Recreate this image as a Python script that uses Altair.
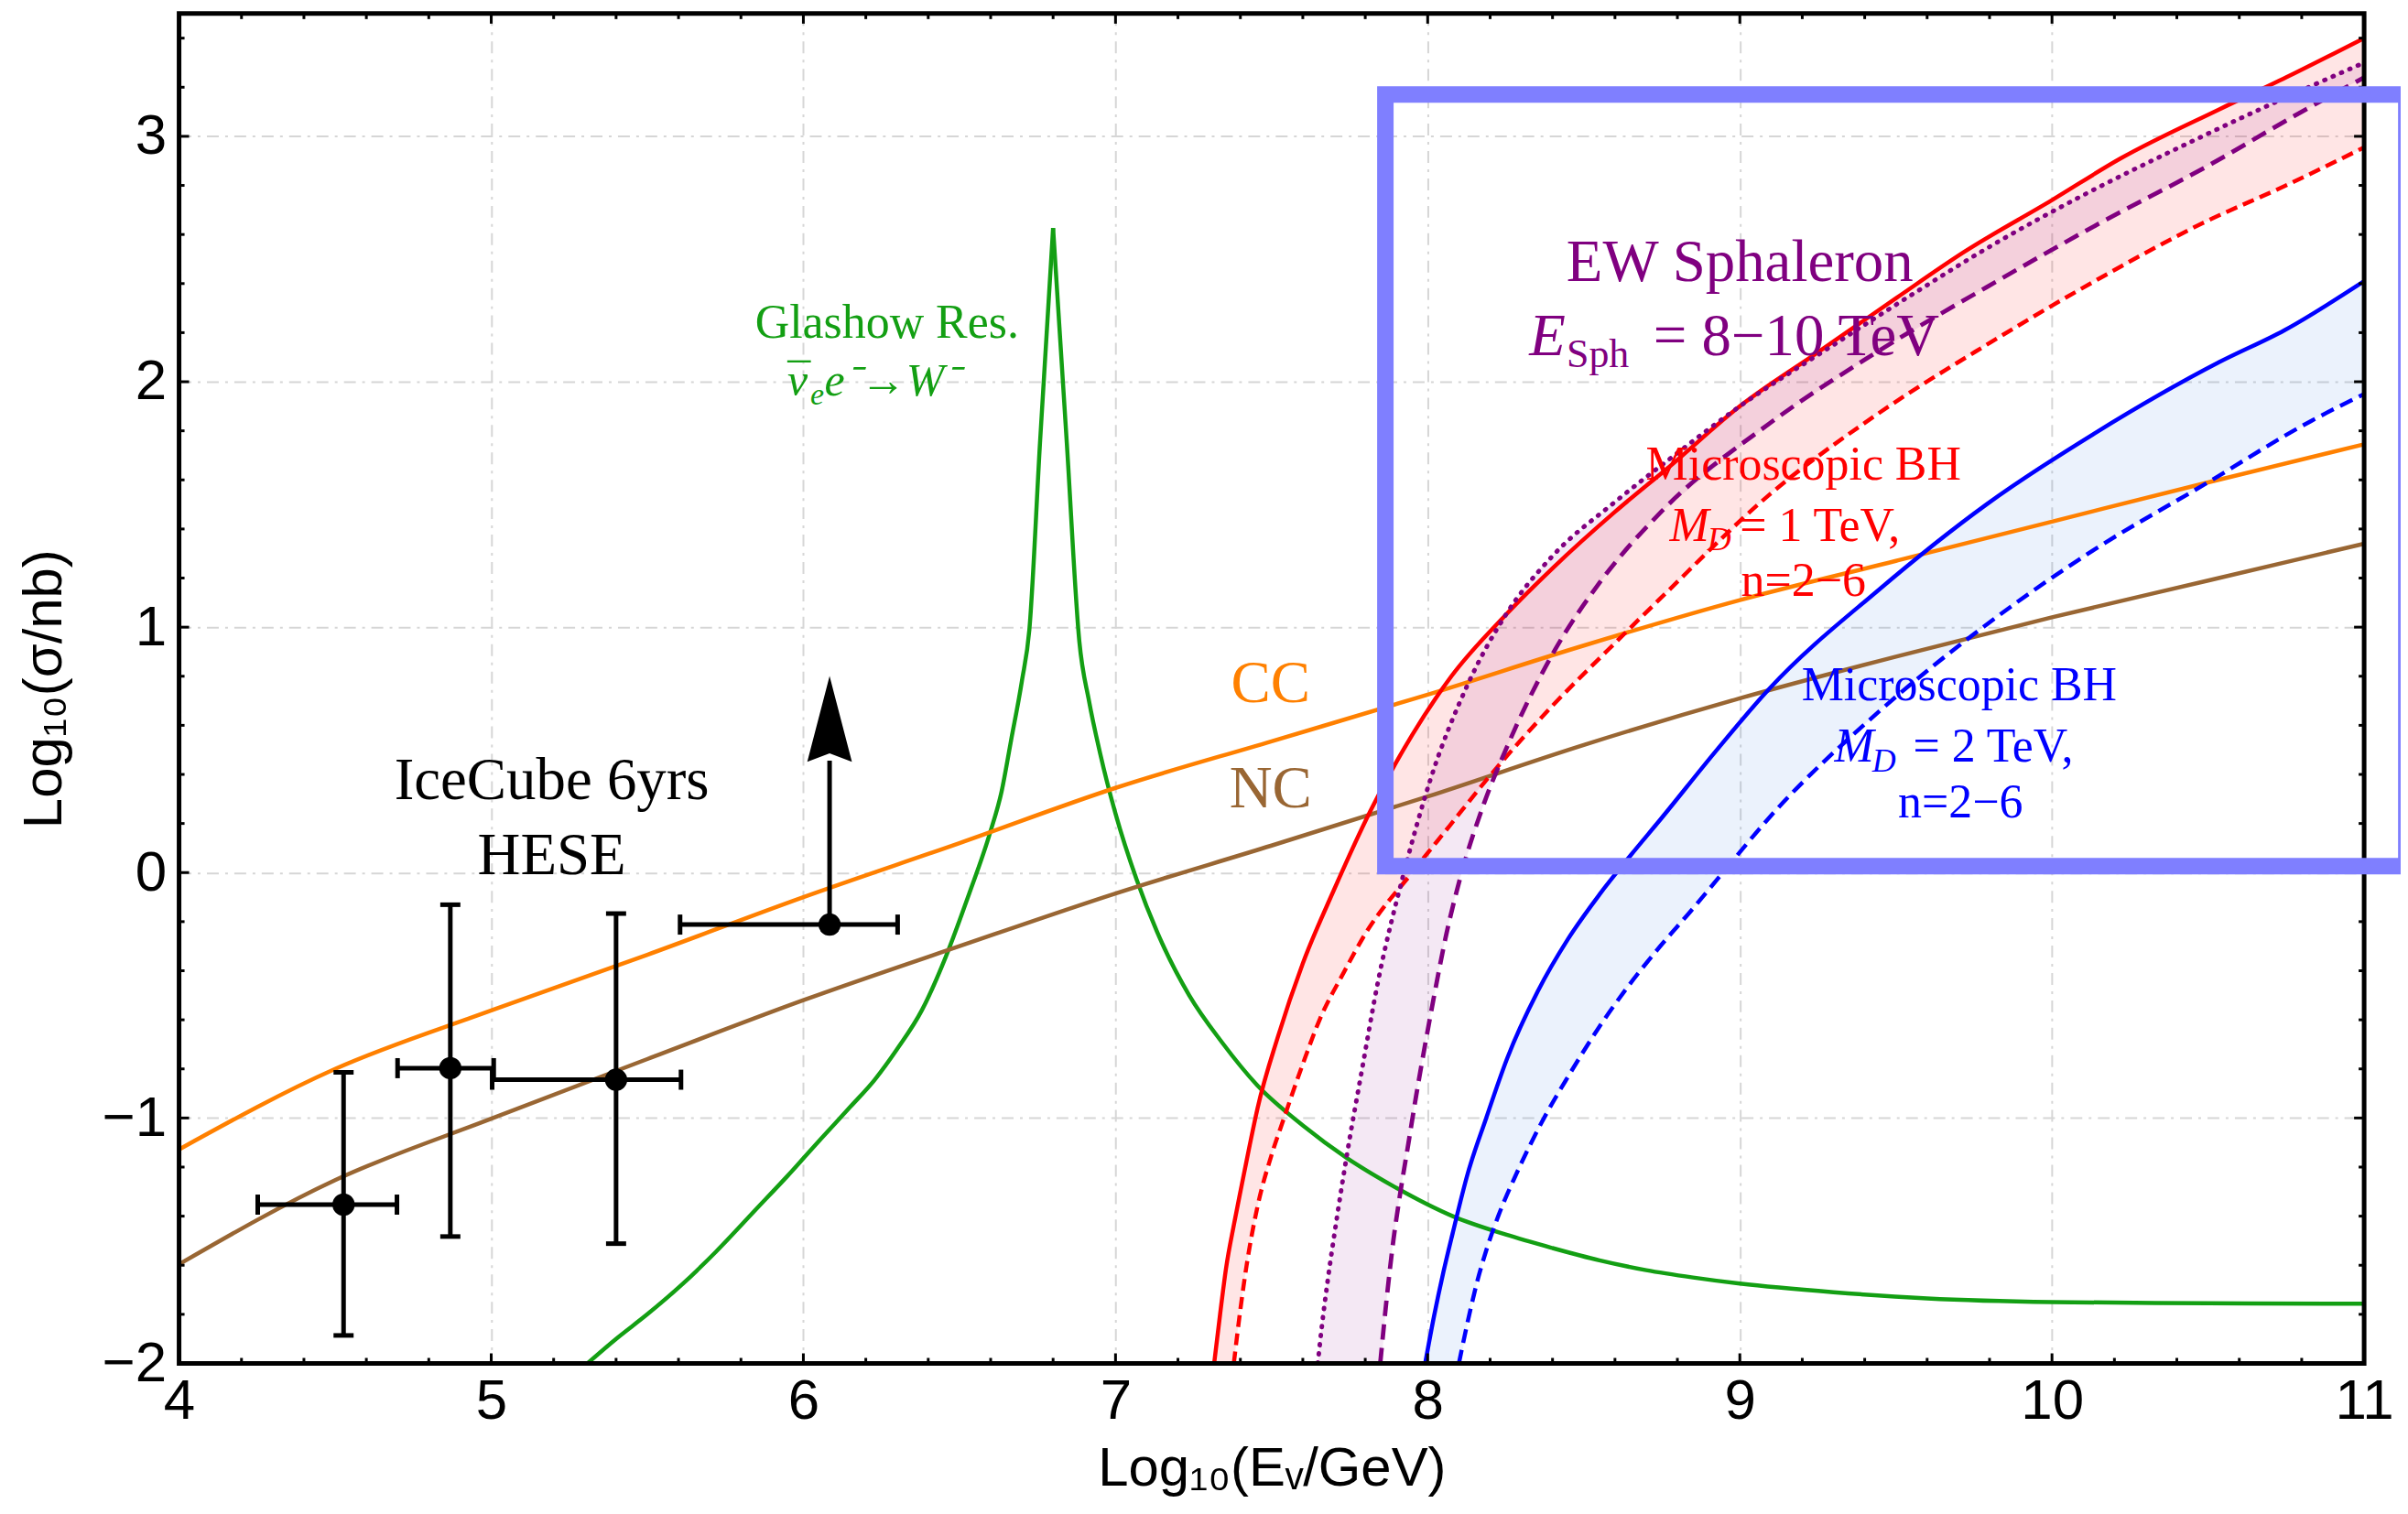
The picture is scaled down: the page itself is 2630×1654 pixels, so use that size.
import altair as alt
import pandas as pd
import numpy as np

# ---------------- frame / scales ----------------
X_MIN, X_MAX = 4.0, 11.0
Y_MIN, Y_MAX = -2.0, 3.5
PLOT_W, PLOT_H = 2392, 1478

# ---------------- data ----------------
# SM charged current / neutral current
cc_x = [4.0, 4.5, 5.0, 5.5, 6.0, 6.5, 7.0, 7.5, 8.0, 8.5, 9.0, 9.5, 10.0, 10.5, 11.0]
cc_y = [-1.128, -0.80, -0.562, -0.335, -0.10, 0.12, 0.345, 0.535, 0.725, 0.925, 1.11, 1.27, 1.43, 1.59, 1.745]
nc_x = [4.0, 4.5, 5.0, 5.5, 6.0, 6.5, 7.0, 7.5, 8.0, 8.5, 9.0, 9.5, 10.0, 10.5, 11.0]
nc_y = [-1.596, -1.253, -1.003, -0.76, -0.52, -0.30, -0.085, 0.11, 0.31, 0.52, 0.71, 0.88, 1.04, 1.19, 1.34]

# Glashow resonance: rising branch (up to the peak) and falling branch (from the peak)
gl_up_x = [5.308, 5.40, 5.50, 5.61, 5.72, 5.85, 5.95, 6.06, 6.15, 6.228, 6.30, 6.38, 6.455, 6.53,
           6.598, 6.635, 6.665, 6.70, 6.724, 6.758, 6.80]
gl_up_y = [-2.0, -1.90, -1.80, -1.68, -1.545, -1.37, -1.235, -1.08, -0.955, -0.845, -0.72, -0.56,
           -0.347, -0.09, 0.162, 0.33, 0.536, 0.78, 0.99, 1.75, 2.626]
gl_dn_x = [6.80, 6.844, 6.884, 6.915, 6.95, 7.00, 7.068, 7.15, 7.236, 7.34, 7.455, 7.60, 7.74,
           7.90, 8.08, 8.25, 8.40, 8.55, 8.70, 8.85, 9.0, 9.3, 9.6, 10.0, 10.5, 11.0]
gl_dn_y = [2.626, 1.75, 0.943, 0.70, 0.49, 0.24, -0.03, -0.29, -0.50, -0.69, -0.868, -1.03, -1.162,
           -1.285, -1.40, -1.475, -1.53, -1.58, -1.62, -1.65, -1.675, -1.71, -1.735, -1.75, -1.755, -1.757]

# Microscopic BH, M_D = 1 TeV (solid / dashed)
rs_x = [7.316, 7.335, 7.354, 7.38, 7.404, 7.43, 7.455, 7.52, 7.60, 7.70, 7.816, 7.95, 8.076,
        8.25, 8.40, 8.60, 8.78, 9.0, 9.25, 9.5, 9.72, 10.0, 10.22, 10.536, 10.75, 11.0]
rs_y = [-2.0, -1.80, -1.613, -1.43, -1.275, -1.11, -0.96, -0.67, -0.37, -0.07, 0.25, 0.56, 0.80,
        1.05, 1.24, 1.47, 1.66, 1.90, 2.12, 2.34, 2.53, 2.74, 2.91, 3.11, 3.24, 3.40]
rd_x = [7.379, 7.40, 7.42, 7.455, 7.50, 7.539, 7.60, 7.655, 7.73, 7.80, 7.95, 8.07, 8.19, 8.40,
        8.58, 8.748, 9.095, 9.443, 9.79, 10.137, 10.484, 10.75, 11.0]
rd_y = [-2.0, -1.78, -1.60, -1.36, -1.15, -1.003, -0.78, -0.596, -0.41, -0.25, 0.0, 0.19, 0.38,
        0.68, 0.91, 1.12, 1.54, 1.87, 2.15, 2.41, 2.647, 2.80, 2.955]

# EW sphaleron, E_Sph = 8 TeV (dotted) / 10 TeV (dashed)
pdo_x = [7.648, 7.66, 7.68, 7.71, 7.74, 7.79, 7.84, 7.924, 8.009, 8.126, 8.25, 8.40, 8.60, 8.78,
         9.0, 9.3, 9.57, 9.8, 10.1, 10.4, 10.7, 11.0]
pdo_y = [-2.0, -1.86, -1.66, -1.40, -1.16, -0.80, -0.45, 0.0, 0.38, 0.76, 1.05, 1.29, 1.51, 1.69,
         1.90, 2.15, 2.37, 2.55, 2.76, 2.95, 3.13, 3.30]
pda_x = [7.848, 7.87, 7.89, 7.908, 7.94, 7.963, 7.992, 8.021, 8.06, 8.109, 8.18, 8.25, 8.40, 8.55,
         8.748, 9.095, 9.443, 9.79, 10.137, 10.5, 10.8, 11.0]
pda_y = [-2.0, -1.72, -1.50, -1.34, -1.09, -0.91, -0.70, -0.50, -0.25, 0.0, 0.28, 0.50, 0.89, 1.18,
         1.47, 1.83, 2.124, 2.385, 2.635, 2.88, 3.10, 3.24]

# Microscopic BH, M_D = 2 TeV (solid / dashed)
bs_x = [7.992, 8.02, 8.05, 8.08, 8.128, 8.187, 8.255, 8.353, 8.45, 8.55, 8.65, 8.748, 8.92, 9.095,
        9.443, 9.79, 10.137, 10.536, 10.745, 11.0]
bs_y = [-2.0, -1.81, -1.63, -1.47, -1.228, -1.002, -0.756, -0.483, -0.27, -0.09, 0.07, 0.22, 0.49,
        0.75, 1.15, 1.50, 1.79, 2.08, 2.21, 2.41]
bd_x = [8.10, 8.13, 8.16, 8.19, 8.226, 8.284, 8.372, 8.45, 8.548, 8.645, 8.743, 8.84, 8.938, 9.095,
        9.443, 9.79, 10.137, 10.484, 10.83, 11.0]
bd_y = [-2.0, -1.82, -1.66, -1.53, -1.40, -1.228, -1.002, -0.831, -0.632, -0.459, -0.303, -0.161,
        -0.012, 0.225, 0.653, 1.01, 1.317, 1.578, 1.84, 1.95]

# IceCube 6 yrs HESE points
ic_x = [4.527, 4.869, 5.400]
ic_y = [-1.353, -0.797, -0.844]
ic_xlo = [4.252, 4.700, 5.003]
ic_xhi = [4.698, 5.008, 5.608]
ic_ylo = [-1.886, -1.483, -1.512]
ic_yhi = [-0.814, -0.131, -0.167]
lim_x = [6.084]
lim_y = [-0.212]
lim_xlo = [5.605]
lim_xhi = [6.302]
lim_tip = [0.796]
lim_head_base = [0.456]

# highlighted box (x from, x to, y from, y to)
box_x = [7.8645]
box_x2 = [11.135]
box_y = [0.026]
box_y2 = [3.170]

# ---------------- colours ----------------
ORANGE = "#ff8000"
BROWN = "#996633"
GREEN = "#139f13"
RED = "#ff0000"
PURPLE = "#800080"
BLUE = "#0000ff"
BOXC = "#7f7fff"

# ---------------- text annotations ----------------
txt_center = pd.DataFrame([
    ("Glashow Res.", 6.268, 2.179, GREEN, 52),
    ("EW Sphaleron", 9.0, 2.41, PURPLE, 65),
    ("Microscopic BH", 9.204, 1.602, RED, 52),
    ("n=2\u22126", 9.204, 1.127, RED, 52),
    ("Microscopic BH", 9.703, 0.701, BLUE, 52),
    ("n=2\u22126", 9.707, 0.225, BLUE, 52),
    ("CC", 7.497, 0.694, ORANGE, 65),
    ("NC", 7.497, 0.264, BROWN, 65),
    ("IceCube 6yrs", 5.194, 0.298, "#000000", 65),
    ("HESE", 5.194, -0.008, "#000000", 65),
    ("\u00af", 5.986, 1.944, GREEN, 50),
], columns=["text", "x", "y", "color", "size"])
txt_left = pd.DataFrame([
    ("= 8\u221210 TeV", 8.723, 2.108, PURPLE, 65),
    ("Sph", 8.445, 2.060, PURPLE, 44),
    ("= 1 TeV,", 9.0, 1.353, RED, 52),
    ("= 2 TeV,", 9.555, 0.452, BLUE, 52),
], columns=["text", "x", "y", "color", "size"])
txt_left_it = pd.DataFrame([
    ("E", 8.3255, 2.108, PURPLE, 65),
    ("M", 8.775, 1.353, RED, 52),
    ("D", 8.896, 1.313, RED, 36),
    ("M", 9.303, 0.452, BLUE, 52),
    ("D", 9.424, 0.412, BLUE, 36),
    ("\u03bd", 5.949, 1.944, GREEN, 50),
    ("e", 6.022, 1.908, GREEN, 34),
    ("e\u207b\u2192W\u207b", 6.068, 1.944, GREEN, 50),
], columns=["text", "x", "y", "color", "size"])

# ---------------- helpers ----------------
xscale = alt.Scale(domain=[X_MIN, X_MAX], nice=False, zero=False)
yscale = alt.Scale(domain=[Y_MIN, Y_MAX], nice=False, zero=False)

SANS = "Liberation Sans"
SERIF = "Liberation Serif"

x_axis = alt.Axis(values=list(range(4, 12)), format="d", title="Log\u2081\u2080(E\u1d65/GeV)",
                  labelFont=SANS, labelFontSize=62, labelColor="black", labelPadding=11,
                  labelFlush=False, labelOverlap=False,
                  ticks=False, tickSize=0, domain=False,
                  grid=True, gridColor="#d6d6d6", gridDash=[13, 7, 3, 7], gridWidth=2,
                  titleFont=SANS, titleFontSize=60, titleFontWeight="normal",
                  titleColor="black", titlePadding=14)
y_axis = alt.Axis(values=[-2, -1, 0, 1, 2, 3], format="d", title="Log\u2081\u2080(\u03c3/nb)",
                  labelFont=SANS, labelFontSize=62, labelColor="black", labelPadding=14,
                  labelFlush=False, labelOverlap=False,
                  ticks=False, tickSize=0, domain=False,
                  grid=True, gridColor="#d6d6d6", gridDash=[13, 7, 3, 7], gridWidth=2,
                  titleFont=SANS, titleFontSize=60, titleFontWeight="normal",
                  titleColor="black", titlePadding=32)


def X(f="x"):
    return alt.X(f"{f}:Q", scale=xscale, axis=x_axis)


def Y(f="y"):
    return alt.Y(f"{f}:Q", scale=yscale, axis=y_axis)


def ldf(xs, ys):
    return pd.DataFrame({"x": xs, "y": ys})


def band_df(xt, yt, xb, yb):
    xs = np.array(sorted(set(xt) | set(xb)))
    xs = xs[xs >= min(xt)]
    top = np.interp(xs, xt, yt)
    bot = np.interp(xs, xb, yb, left=Y_MIN)
    return pd.DataFrame({"x": xs, "y": top, "y2": bot})


LW = 4.5


def line(xs, ys, color, width=LW, dash=None, cap="butt"):
    kw = dict(color=color, strokeWidth=width, interpolate="monotone", strokeCap=cap)
    if dash is not None:
        kw["strokeDash"] = dash
    return alt.Chart(ldf(xs, ys)).mark_line(**kw).encode(x=X(), y=Y())


def band(xt, yt, xb, yb, color, op):
    return alt.Chart(band_df(xt, yt, xb, yb)).mark_area(
        color=color, opacity=op, interpolate="monotone").encode(x=X(), y=Y(), y2="y2:Q")


layers = []
# fills
layers.append(band(rs_x, rs_y, rd_x, rd_y, RED, 0.10))
layers.append(band(pdo_x, pdo_y, pda_x, pda_y, PURPLE, 0.09))
layers.append(band(bs_x, bs_y, bd_x, bd_y, "#3f7fdf", 0.10))

# SM curves
layers.append(line(gl_up_x, gl_up_y, GREEN))
layers.append(line(gl_dn_x, gl_dn_y, GREEN))
layers.append(line(cc_x, cc_y, ORANGE))
layers.append(line(nc_x, nc_y, BROWN))

# BSM curves
layers.append(line(rs_x, rs_y, RED))
layers.append(line(rd_x, rd_y, RED, dash=[13, 7]))
layers.append(line(pdo_x, pdo_y, PURPLE, width=5, dash=[1, 9], cap="round"))
layers.append(line(pda_x, pda_y, PURPLE, width=4.8, dash=[17, 9]))
layers.append(line(bs_x, bs_y, BLUE))
layers.append(line(bd_x, bd_y, BLUE, dash=[15, 8]))

# IceCube data
pts = pd.DataFrame({"x": ic_x, "y": ic_y, "xlo": ic_xlo, "xhi": ic_xhi,
                    "ylo": ic_ylo, "yhi": ic_yhi})
lim = pd.DataFrame({"x": lim_x, "y": lim_y, "xlo": lim_xlo, "xhi": lim_xhi,
                    "tip": lim_tip, "base": lim_head_base})
lim["head"] = (lim["tip"] + lim["base"]) / 2
EW = 5

layers.append(alt.Chart(pts).mark_rule(color="black", strokeWidth=EW).encode(
    x=X("xlo"), x2="xhi:Q", y=Y()))
layers.append(alt.Chart(pts).mark_rule(color="black", strokeWidth=EW).encode(
    x=X(), y=Y("ylo"), y2="yhi:Q"))
layers.append(alt.Chart(lim).mark_rule(color="black", strokeWidth=EW).encode(
    x=X("xlo"), x2="xhi:Q", y=Y()))
layers.append(alt.Chart(lim).mark_rule(color="black", strokeWidth=EW).encode(
    x=X(), y=Y(), y2="base:Q"))
for fx in ["xlo", "xhi"]:
    layers.append(alt.Chart(pts).mark_tick(orient="vertical", color="black", size=22,
                                           thickness=EW, opacity=1).encode(x=X(fx), y=Y()))
    layers.append(alt.Chart(lim).mark_tick(orient="vertical", color="black", size=22,
                                           thickness=EW, opacity=1).encode(x=X(fx), y=Y()))
for fy in ["ylo", "yhi"]:
    layers.append(alt.Chart(pts).mark_tick(orient="horizontal", color="black", size=22,
                                           thickness=EW, opacity=1).encode(x=X(), y=Y(fy)))
layers.append(alt.Chart(pd.concat([pts[["x", "y"]], lim[["x", "y"]]])).mark_circle(
    color="black", size=600, opacity=1).encode(x=X(), y=Y()))
layers.append(alt.Chart(lim).mark_point(shape="M0,-1L0.52,1L0,0.8L-0.52,1Z", filled=True,
                                        color="black", size=8836, opacity=1,
                                        strokeWidth=0).encode(x=X(), y=Y("head")))


# text
def text_layer(df, align, italic=False):
    kw = dict(font=SERIF, align=align, baseline="alphabetic")
    if italic:
        kw["fontStyle"] = "italic"
    return alt.Chart(df).mark_text(**kw).encode(
        x=X(), y=Y(), text="text:N",
        color=alt.Color("color:N", scale=None),
        size=alt.Size("size:Q", scale=None))


layers.append(text_layer(txt_center, "center"))
layers.append(text_layer(txt_left, "left"))
layers.append(text_layer(txt_left_it, "left", italic=True))

# frame
frame = pd.DataFrame({"x": [X_MIN], "x2": [X_MAX], "y": [Y_MIN], "y2": [Y_MAX]})
layers.append(alt.Chart(frame).mark_rect(filled=False, color="black", strokeWidth=5).encode(
    x=X(), x2="x2:Q", y=Y(), y2="y2:Q"))

# inward frame ticks (major every 1, minor every 0.2)
MAJ, MIN_ = 11.0, 6.0
dx_u = (X_MAX - X_MIN) / PLOT_W
dy_u = (Y_MAX - Y_MIN) / PLOT_H
xt_all = np.round(np.arange(X_MIN + 0.2, X_MAX - 0.1, 0.2), 3)
yt_all = np.round(np.arange(Y_MIN + 0.2, Y_MAX - 0.05, 0.2), 3)
rows = []
for v in xt_all:
    L = MAJ if abs(v - round(v)) < 1e-6 else MIN_
    rows.append((v, v, Y_MIN, Y_MIN + L * dy_u))
    rows.append((v, v, Y_MAX, Y_MAX - L * dy_u))
for v in yt_all:
    L = MAJ if abs(v - round(v)) < 1e-6 else MIN_
    rows.append((X_MIN, X_MIN + L * dx_u, v, v))
    rows.append((X_MAX, X_MAX - L * dx_u, v, v))
ticks = pd.DataFrame(rows, columns=["x", "x2", "y", "y2"])
layers.append(alt.Chart(ticks).mark_rule(color="black", strokeWidth=3).encode(
    x=X(), x2="x2:Q", y=Y(), y2="y2:Q"))

# highlight box
boxdf = pd.DataFrame({"x": box_x, "x2": box_x2, "y": box_y, "y2": box_y2})
layers.append(alt.Chart(boxdf).mark_rect(filled=False, color=BOXC, strokeWidth=18,
                                         opacity=1, clip=False).encode(
    x=X(), x2="x2:Q", y=Y(), y2="y2:Q"))

chart = alt.layer(*layers).properties(
    width=PLOT_W, height=PLOT_H,
    padding={"left": 188, "top": 5, "right": 40, "bottom": 155},
    autosize=alt.AutoSizeParams(type="none"),
    background="white",
).configure_view(strokeWidth=0)

chart.save("out.html", embed_options={"renderer": "svg", "actions": False})
